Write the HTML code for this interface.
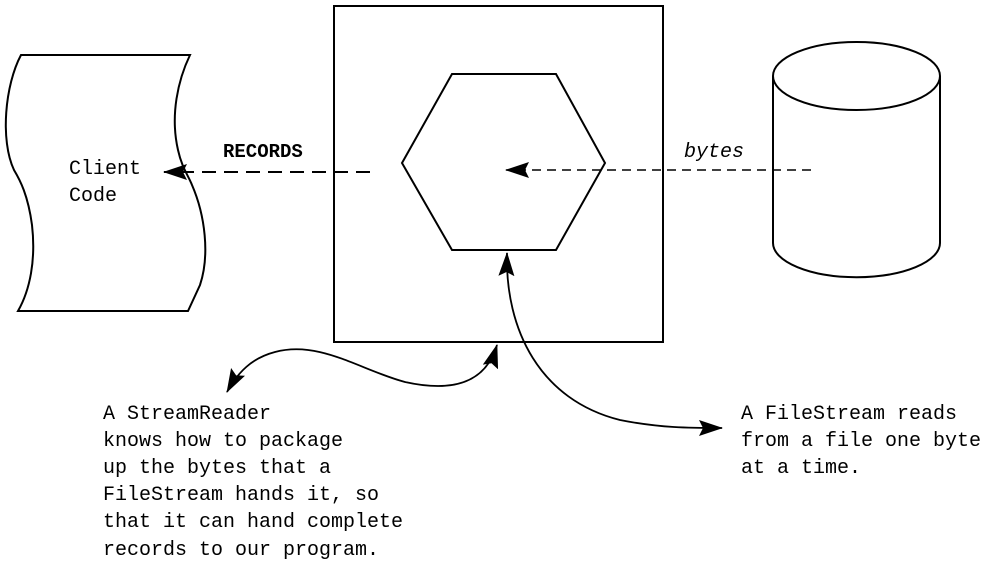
<!DOCTYPE html>
<html><head><style>
body{margin:0;background:#fff;}
svg{display:block}
text{font-family:"Liberation Mono","DejaVu Sans Mono",monospace;fill:#000;}
</style></head><body>
<svg width="984" height="567" viewBox="0 0 984 567" xmlns="http://www.w3.org/2000/svg">
<defs>
<marker id="ah" markerWidth="24" markerHeight="16" refX="23" refY="8" orient="auto-start-reverse" markerUnits="userSpaceOnUse">
<path d="M0,0 L24,8 L0,16 L4,8 Z" fill="#000"/>
</marker>
</defs>
<g fill="none" stroke="#000" stroke-width="2">
<path d="M21,55 L190,55 C178,80 170,115 178,150 C182,168 188,175 192,185 C205,215 210,255 200,285 L188,311 L18,311 C30,290 36,260 32,225 C28,195 20,180 14,170 C0,140 5,85 21,55 Z"/>
<rect x="334" y="6" width="329" height="336"/>
<polygon points="402,163 452,74 556,74 605,163 556,250 452,250"/>
<path d="M773,76 L773,243 A83,34 0 0 0 940,243 L940,76"/>
<ellipse cx="856.5" cy="76" rx="83.5" ry="34"/>
<path d="M370,172 L164,172" stroke-dasharray="14,8" marker-end="url(#ah)"/>
<path d="M811,170 L506,170" stroke-dasharray="9,6" stroke-width="1.6" marker-end="url(#ah)"/>
<path d="M497,345 C485,385 450,392 405,382 C360,370 320,340 275,352 C252,358 238,372 227,392" stroke-width="1.8" marker-start="url(#ah)" marker-end="url(#ah)"/>
<path d="M507,253 C505,330 540,400 620,420 C660,428 690,428 722,428" stroke-width="1.8" marker-start="url(#ah)" marker-end="url(#ah)"/>
</g>
<text x="69" y="174" font-size="20">Client</text>
<text x="69" y="201" font-size="20">Code</text>
<text x="223" y="157" font-size="19" font-weight="bold">RECORDS</text>
<text x="684" y="157" font-size="20" font-style="italic" font-family="Liberation Sans, sans-serif">bytes</text>
<g font-size="20">
<text x="103" y="419">A StreamReader</text>
<text x="103" y="446">knows how to package</text>
<text x="103" y="473">up the bytes that a</text>
<text x="103" y="500">FileStream hands it, so</text>
<text x="103" y="527">that it can hand complete</text>
<text x="103" y="555">records to our program.</text>
<text x="741" y="419">A FileStream reads</text>
<text x="741" y="446">from a file one byte</text>
<text x="741" y="473">at a time.</text>
</g>
</svg>
</body></html>
